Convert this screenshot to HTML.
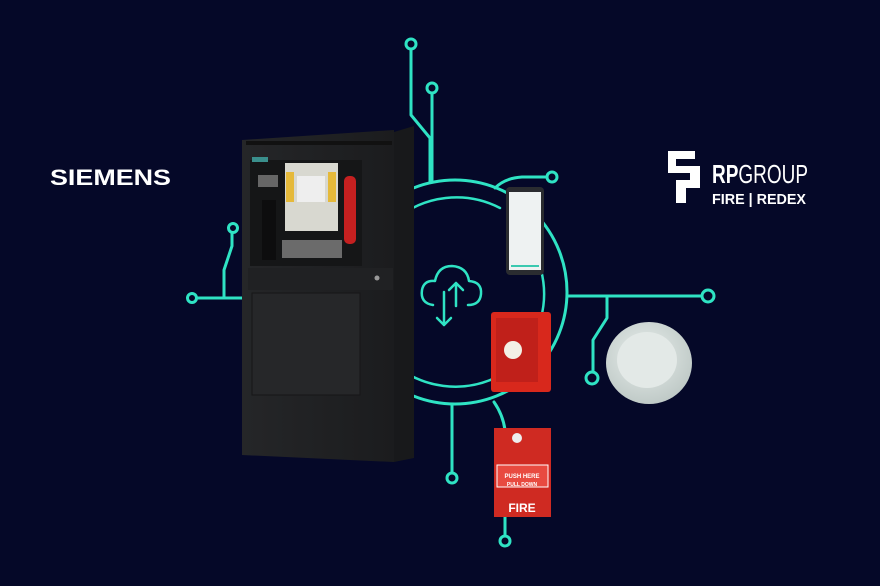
<!DOCTYPE html>
<html><head><meta charset="utf-8"><style>
html,body{margin:0;padding:0;background:#050727;}
svg{display:block}
text{font-family:"Liberation Sans",sans-serif}
</style></head><body>
<svg width="880" height="586" viewBox="0 0 880 586" xmlns="http://www.w3.org/2000/svg">
<defs>
<radialGradient id="det" cx="0.45" cy="0.4" r="0.7"><stop offset="0" stop-color="#e8eeec"/><stop offset="1" stop-color="#b9c4c1"/></radialGradient>
<linearGradient id="cab" x1="0" x2="1"><stop offset="0" stop-color="#252628"/><stop offset="1" stop-color="#1b1c1e"/></linearGradient>
</defs>
<rect width="880" height="586" fill="#050828"/>
<g fill="none" stroke="#2fe3c4" stroke-width="3" stroke-linecap="round" stroke-linejoin="round">
 <circle cx="455" cy="292" r="112"/>
 <path d="M395 220 A95 95 0 0 1 500 208" stroke-width="2.5"/>
 <path d="M395 365 A95 95 0 0 0 495 378" stroke-width="2.5"/>
 <path d="M541 270 A95 95 0 0 1 541 318" stroke-width="2.5"/>
 <path d="M411 49 V115 L430 138 V182"/>
 <path d="M432 93 V180"/>
 <circle cx="411" cy="44" r="5"/>
 <circle cx="432" cy="88" r="5"/>
 <path d="M547 177 H522 Q505 178 495 188"/>
 <circle cx="552" cy="177" r="5"/>
 <path d="M567 296 H702"/>
 <circle cx="708" cy="296" r="6"/>
 <path d="M607 296 V318 L593 340 V372"/>
 <circle cx="592" cy="378" r="6"/>
 <path d="M197 298 H245"/>
 <circle cx="192" cy="298" r="4.5"/>
 <path d="M224 298 V270 L232 246 V233"/>
 <circle cx="233" cy="228" r="4.5"/>
 <path d="M452 404 V472"/>
 <circle cx="452" cy="478" r="5"/>
 <path d="M494 402 Q503 415 505 430"/>
 <path d="M505 515 V536"/>
 <circle cx="505" cy="541" r="5"/>
 <path d="M433 305 Q420 303 422 290 Q424 280 435 281 Q438 266 452 266 Q467 267 469 281 Q482 282 481 294 Q480 305 468 305" stroke-width="2.5"/>
 <path d="M456 306 V283 M449 290 L456 283 L463 290" stroke-width="2.5"/>
 <path d="M444 292 V325 M437 318 L444 325 L451 318" stroke-width="2.5"/>
</g>
<polygon points="394,132 414,126 414,458 394,462" fill="#18191b"/>
<polygon points="242,140 394,130 394,462 242,455" fill="url(#cab)"/>
<rect x="246" y="141" width="146" height="4" fill="#111"/>
<rect x="250" y="160" width="112" height="106" fill="#151617"/>
<rect x="248" y="268" width="145" height="22" fill="#202123"/>
<rect x="252" y="293" width="108" height="102" fill="#262729" stroke="#161617"/>
<rect x="252" y="157" width="16" height="5" fill="#3a8f8c"/>
<rect x="285" y="163" width="53" height="68" fill="#d8d8d0"/>
<rect x="286" y="172" width="8" height="30" fill="#e5b93a"/>
<rect x="328" y="172" width="8" height="30" fill="#e5b93a"/>
<rect x="297" y="176" width="28" height="26" fill="#eee"/>
<rect x="258" y="175" width="20" height="12" fill="#666"/>
<rect x="262" y="200" width="14" height="60" fill="#0d0d0e"/>
<rect x="282" y="240" width="60" height="18" fill="#6b6b6b"/>
<rect x="344" y="176" width="12" height="68" rx="5" fill="#c52020"/>
<circle cx="377" cy="278" r="2.5" fill="#999"/>
<rect x="506" y="187" width="38" height="88" rx="4" fill="#2a2c30"/>
<rect x="509" y="192" width="32" height="78" fill="#eef2f2"/>
<rect x="511" y="265" width="28" height="2" fill="#3ac9b0"/>
<rect x="491" y="312" width="60" height="80" rx="3" fill="#d8281c"/>
<rect x="496" y="318" width="42" height="64" fill="#c0201a"/>
<circle cx="513" cy="350" r="9" fill="#f3f0e5"/>
<rect x="494" y="428" width="57" height="89" fill="#cf2a22"/>
<rect x="497" y="465" width="51" height="22" fill="#e84a40" stroke="#fff" stroke-width="1"/>
<circle cx="517" cy="438" r="5" fill="#eee"/>
<text x="522" y="478" font-size="6" fill="#fff" text-anchor="middle" font-weight="bold">PUSH HERE</text>
<text x="522" y="486" font-size="5" fill="#fff" text-anchor="middle" font-weight="bold">PULL DOWN</text>
<text x="522" y="512" font-size="12" fill="#fff" text-anchor="middle" font-weight="bold">FIRE</text>
<ellipse cx="649" cy="363" rx="43" ry="41" fill="url(#det)"/>
<ellipse cx="647" cy="360" rx="30" ry="28" fill="#e3e9e7"/>
<text x="50" y="185" font-size="22" font-weight="bold" fill="#fff" textLength="121" lengthAdjust="spacingAndGlyphs">SIEMENS</text>
<path d="M668 151 H695 V159 H676 V166 H700 V188 H686 V203 H676 V180 H690 V173 H668 Z" fill="#fff"/>
<text x="712" y="183" font-size="26" fill="#fff" textLength="96" lengthAdjust="spacingAndGlyphs"><tspan font-weight="bold">RP</tspan>GROUP</text>
<text x="712" y="204" font-size="15" font-weight="bold" fill="#fff" textLength="94" lengthAdjust="spacingAndGlyphs">FIRE | REDEX</text>
</svg>
</body></html>
